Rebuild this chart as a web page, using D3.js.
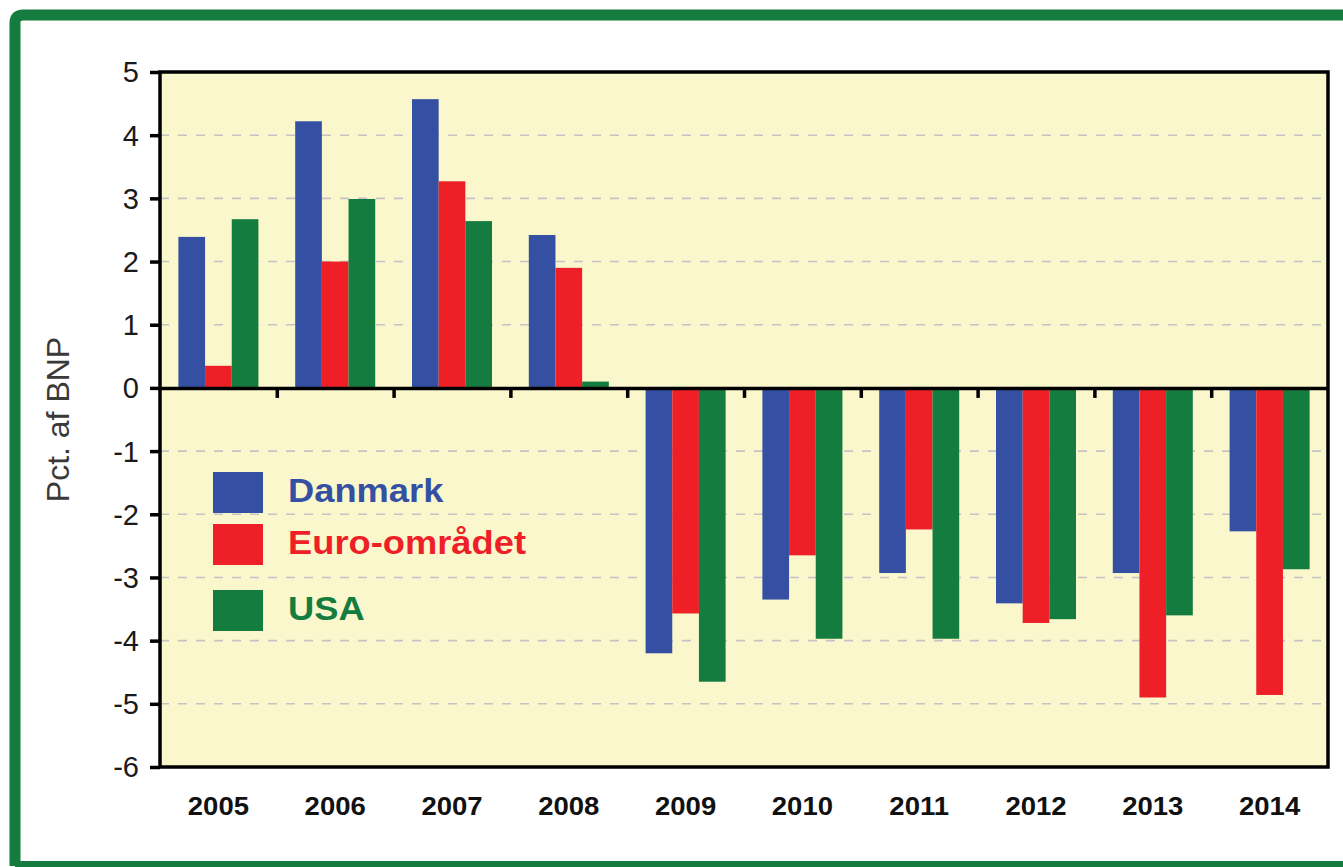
<!DOCTYPE html>
<html>
<head>
<meta charset="utf-8">
<script src="https://cdn.jsdelivr.net/npm/d3@7"></script>
<style>
  body { margin: 0; background: #fff; }
  svg { display: block; font-family: "Liberation Sans", Arial, sans-serif; }
</style>
</head>
<body>
<svg id="chart" width="1343" height="867"></svg>
<script>
// data (pct. af BNP)
const years = ['2005', '2006', '2007', '2008', '2009', '2010', '2011', '2012', '2013', '2014'];
const seriesNames = ['Danmark', 'Euro-området', 'USA'];
const danmark = [2.39, 4.22, 4.57, 2.42, -4.20, -3.35, -2.93, -3.41, -2.93, -2.27];
const euro = [0.35, 2.00, 3.27, 1.90, -3.57, -2.65, -2.24, -3.72, -4.90, -4.86];
const usa = [2.67, 2.99, 2.64, 0.10, -4.65, -3.97, -3.97, -3.66, -3.60, -2.87];
const yTicks = [5, 4, 3, 2, 1, 0, -1, -2, -3, -4, -5, -6];
const colors = ['#3550A2', '#EE1F27', '#147C3E'];

const seriesValues = [danmark, euro, usa];
const table = years.map((yr, i) => ({
  year: yr,
  values: seriesNames.map((s, j) => ({ key: s, value: seriesValues[j][i], color: colors[j] }))
}));

const W = 1343, H = 867;
const svg = d3.select('#chart');

// green frame: the original is cropped, so only top, left and a sliver of the bottom show
svg.append('path')
  .attr('d', `M${W},15 H23 Q15,15 15,23 V${H - 1} M15,${H - 0.5} H${W}`)
  .attr('fill', 'none')
  .attr('stroke', '#147C3E')
  .attr('stroke-width', 11);

const margin = { top: 72, left: 160 };
const innerWidth = 1168;
const innerHeight = 695;

const g = svg.append('g')
  .attr('transform', `translate(${margin.left},${margin.top})`);

const x0 = d3.scaleBand()
  .domain(years)
  .range([0, innerWidth])
  .paddingInner(0.315)
  .paddingOuter(0.1575);

const x1 = d3.scaleBand()
  .domain(seriesNames)
  .range([0, x0.bandwidth()]);

const y = d3.scaleLinear()
  .domain([-6, 5])
  .range([innerHeight, 0]);

// plot background
g.append('rect')
  .attr('width', innerWidth)
  .attr('height', innerHeight)
  .attr('fill', '#FAF7CD');

// dashed grid
g.append('g')
  .selectAll('line')
  .data(yTicks.filter(t => t !== 0 && t !== 5 && t !== -6))
  .enter().append('line')
  .attr('x1', 0).attr('x2', innerWidth)
  .attr('y1', d => y(d)).attr('y2', d => y(d))
  .attr('stroke', '#C4C4C4')
  .attr('stroke-width', 1.6)
  .attr('stroke-dasharray', '9,9');

// bars
const groups = g.selectAll('.year')
  .data(table)
  .enter().append('g')
  .attr('class', 'year')
  .attr('transform', d => `translate(${x0(d.year)},0)`);

groups.selectAll('rect')
  .data(d => d.values)
  .enter().append('rect')
  .attr('x', d => x1(d.key))
  .attr('width', x1.bandwidth())
  .attr('y', d => y(Math.max(0, d.value)))
  .attr('height', d => Math.abs(y(d.value) - y(0)))
  .attr('fill', d => d.color);

// zero line with ticks at the year boundaries
const xb = d3.scaleLinear().domain([0, years.length]).range([0, innerWidth]);
const zeroAxis = g.append('g')
  .attr('transform', `translate(0,${y(0)})`)
  .call(d3.axisBottom(xb)
    .tickValues(d3.range(1, years.length))
    .tickFormat('')
    .tickSize(10)
    .tickSizeOuter(0));
zeroAxis.selectAll('path, line').attr('stroke', '#000').attr('stroke-width', 3.5);

// y axis ticks
const yAxisG = g.append('g')
  .call(d3.axisLeft(y)
    .tickValues(yTicks)
    .tickFormat('')
    .tickSize(10)
    .tickSizeOuter(0));
yAxisG.select('.domain').remove();
yAxisG.selectAll('line').attr('stroke', '#000').attr('stroke-width', 3.5);

// y labels, plain hyphen for negatives like the original
g.append('g')
  .selectAll('text')
  .data(yTicks)
  .enter().append('text')
  .attr('x', -21)
  .attr('y', d => y(d))
  .attr('dy', '0.36em')
  .attr('text-anchor', 'end')
  .attr('fill', '#1a1a1a')
  .style('font-size', '29px')
  .text(d => String(d));

// year labels
g.append('g')
  .selectAll('text')
  .data(years)
  .enter().append('text')
  .attr('class', 'stretch')
  .attr('x', d => x0(d) + x0.bandwidth() / 2)
  .attr('y', innerHeight + 48)
  .attr('text-anchor', 'middle')
  .attr('fill', '#111')
  .style('font-size', '25px')
  .style('font-weight', 'bold')
  .text(d => d);

// plot border
g.append('rect')
  .attr('width', innerWidth)
  .attr('height', innerHeight)
  .attr('fill', 'none')
  .attr('stroke', '#000')
  .attr('stroke-width', 3.5);

// axis title
svg.append('text')
  .attr('transform', `translate(69,${margin.top + innerHeight / 2}) rotate(-90)`)
  .attr('text-anchor', 'middle')
  .attr('fill', '#3a3a3a')
  .style('font-size', '32px')
  .text('Pct. af BNP');

// legend
const legendRowY = [472, 524, 590];
const legend = svg.append('g')
  .selectAll('g')
  .data(seriesNames)
  .enter().append('g')
  .attr('transform', (d, i) => `translate(213,${legendRowY[i]})`);

legend.append('rect')
  .attr('width', 50)
  .attr('height', 41)
  .attr('fill', (d, i) => colors[i]);

legend.append('text')
  .attr('class', 'stretch')
  .attr('x', 75)
  .attr('y', 30)
  .attr('fill', (d, i) => colors[i])
  .style('font-size', '33px')
  .style('font-weight', 'bold')
  .text(d => d);

// the source picture is a little wider than tall, so widen the flat text too
svg.selectAll('.stretch').each(function () {
  const w = this.getComputedTextLength();
  d3.select(this)
    .attr('textLength', w * 1.1)
    .attr('lengthAdjust', 'spacingAndGlyphs');
});
</script>
</body>
</html>
